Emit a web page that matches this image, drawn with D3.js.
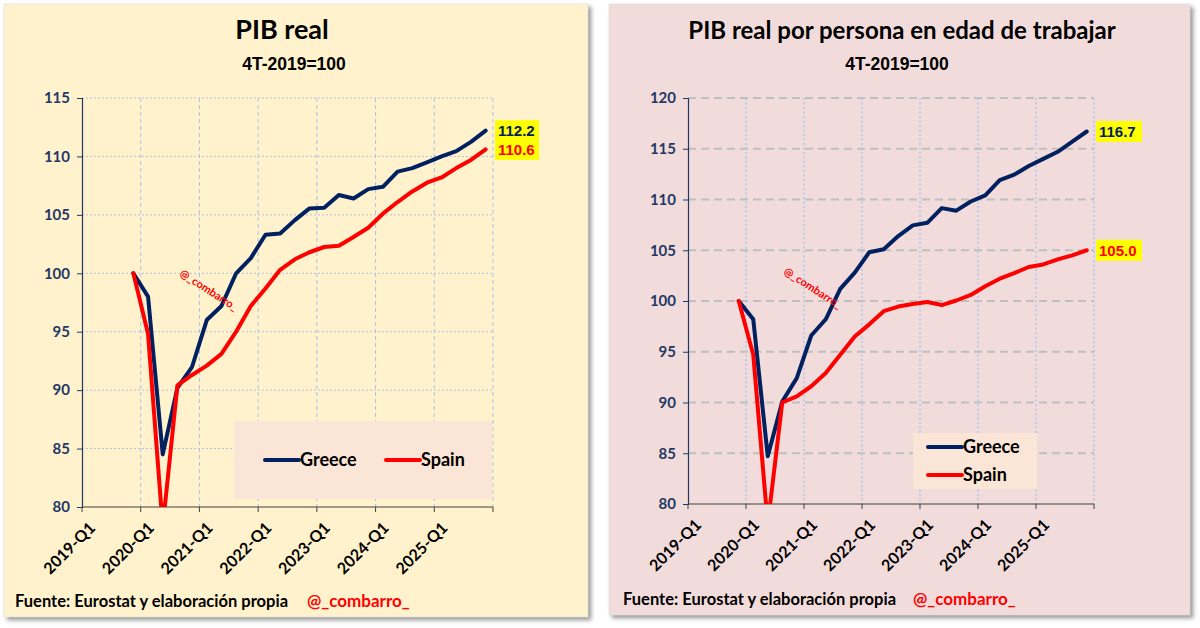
<!DOCTYPE html>
<html>
<head>
<meta charset="utf-8">
<script src="https://cdn.jsdelivr.net/npm/d3@7/dist/d3.min.js"></script>
<style>
  body { margin: 0; background: #ffffff; }
  text { font-family: Lato, "Open Sans", sans-serif; font-weight: bold; }
</style>
</head>
<body>
<div id="wrapper"></div>
<script>
// categories on the x axis (one per quarter)
const categories = [
  "2019-Q1", "2019-Q2", "2019-Q3", "2019-Q4",
  "2020-Q1", "2020-Q2", "2020-Q3", "2020-Q4",
  "2021-Q1", "2021-Q2", "2021-Q3", "2021-Q4",
  "2022-Q1", "2022-Q2", "2022-Q3", "2022-Q4",
  "2023-Q1", "2023-Q2", "2023-Q3", "2023-Q4",
  "2024-Q1", "2024-Q2", "2024-Q3", "2024-Q4",
  "2025-Q1", "2025-Q2", "2025-Q3", "2025-Q4",
]
const xTickLabels = ["2019-Q1", "2020-Q1", "2021-Q1", "2022-Q1", "2023-Q1", "2024-Q1", "2025-Q1"]

// PIB real, 4T-2019=100 (2019-Q4 .. 2025-Q4)
const gdpGreece = [100, 98.0, 84.5, 90.2, 92.0, 96.0, 97.2, 100.0, 101.3, 103.3, 103.4, 104.55, 105.55,
  105.6, 106.7, 106.4, 107.2, 107.4, 108.7, 109.0, 109.5, 110.0, 110.45, 111.25, 112.2]
const gdpSpain = [100, 94.8, 78.3, 90.4, 91.3, 92.1, 93.1, 95.0, 97.2, 98.7, 100.3, 101.2, 101.8,
  102.25, 102.35, 103.1, 103.9, 105.1, 106.1, 107.0, 107.75, 108.2, 109.0, 109.7, 110.6]

// PIB real por persona en edad de trabajar, 4T-2019=100
const gdpWapGreece = [100, 98.2, 84.7, 90.1, 92.4, 96.6, 98.2, 101.2, 102.8, 104.8, 105.1, 106.4, 107.45,
  107.7, 109.15, 108.9, 109.8, 110.4, 111.9, 112.45, 113.3, 114.0, 114.7, 115.7, 116.7]
const gdpWapSpain = [100, 94.7, 78.0, 90.0, 90.6, 91.6, 92.9, 94.7, 96.5, 97.7, 99.0, 99.45, 99.7,
  99.9, 99.6, 100.05, 100.6, 101.45, 102.2, 102.75, 103.35, 103.6, 104.1, 104.5, 105.0]

const seriesNames = ["Greece", "Spain"]
const seriesColors = ["#002060", "#ff0000"]
const firstDataQuarter = "2019-Q4"

const leftTicks = [80, 85, 90, 95, 100, 105, 110, 115]
const rightTicks = [80, 85, 90, 95, 100, 105, 110, 115, 120]

const dimensions = { width: 1200, height: 628 }

const wrapper = d3.select("#wrapper")
  .append("svg")
    .attr("width", dimensions.width)
    .attr("height", dimensions.height)

const defs = wrapper.append("defs")
defs.append("filter")
    .attr("id", "shadow")
    .attr("x", "-5%").attr("y", "-5%")
    .attr("width", "110%").attr("height", "110%")
  .append("feDropShadow")
    .attr("dx", 3).attr("dy", 3)
    .attr("stdDeviation", 2)
    .attr("flood-color", "#7f7f7f")
    .attr("flood-opacity", 0.8)

const startIndex = categories.indexOf(firstDataQuarter)
const toPoints = values => values.map((v, i) => ({ q: categories[startIndex + i], v }))

const panels = [
  {
    id: "left",
    box: { x: 4, y: 4, w: 584, h: 613 },
    background: "#fff2cc",
    title: "PIB real", titleSize: 27, titleX: 282,
    subtitleX: 294, subtitleY: 70,
    plot: { left: 82, top: 98, right: 493, bottom: 507 },
    ticks: leftTicks,
    series: [toPoints(gdpGreece), toPoints(gdpSpain)],
    hGrid: { stroke: "#b4c3dc", width: 1, dash: "2,2" },
    vGrid: { stroke: "#a8c3ea", width: 1, dash: "4,3" },
    legend: { x: 234, y: 421, w: 258, h: 78, layout: "row" },
    labelBoxX: 495, labelBoxW: 44,
    sourceX: 15, sourceY: 607, handleX: 307,
    watermark: { x: 209, y: 290 },
  },
  {
    id: "right",
    box: { x: 609, y: 4, w: 581, h: 611 },
    background: "#f2dcdb",
    title: "PIB real por persona en edad de trabajar", titleSize: 24, titleX: 902,
    subtitleX: 897, subtitleY: 69.5,
    plot: { left: 688, top: 98, right: 1094, bottom: 504 },
    ticks: rightTicks,
    series: [toPoints(gdpWapGreece), toPoints(gdpWapSpain)],
    hGrid: { stroke: "#bfbfbf", width: 2, dash: "8,5" },
    vGrid: { stroke: "#a9c8f0", width: 1.5, dash: "2,2.5" },
    legend: { x: 913, y: 433, w: 124, h: 56, layout: "column" },
    labelBoxX: 1096, labelBoxW: 46,
    sourceX: 623, sourceY: 605, handleX: 913,
    watermark: { x: 813, y: 288 },
  },
]

panels.forEach(drawPanel)

function drawPanel(cfg) {
  const g = wrapper.append("g").attr("class", cfg.id)
  const p = cfg.plot

  // panel background with shadow
  g.append("rect")
      .attr("x", cfg.box.x).attr("y", cfg.box.y)
      .attr("width", cfg.box.w).attr("height", cfg.box.h)
      .attr("fill", cfg.background)
      .attr("stroke", "#d9d9d9")
      .attr("stroke-width", 0.5)
      .attr("filter", "url(#shadow)")

  // titles
  g.append("text")
      .attr("x", cfg.titleX).attr("y", 38.5)
      .attr("text-anchor", "middle")
      .style("font-size", cfg.titleSize + "px")
      .attr("fill", "#000")
      .text(cfg.title)

  g.append("text")
      .attr("x", cfg.subtitleX).attr("y", cfg.subtitleY)
      .attr("text-anchor", "middle")
      .style("font-family", "'Liberation Sans', Arial, sans-serif")
      .style("font-size", "17.5px")
      .attr("fill", "#000")
      .text("4T-2019=100")

  // scales
  const xScale = d3.scaleBand()
    .domain(categories)
    .range([p.left, p.right])
  const bw = xScale.bandwidth()
  const xCenter = q => xScale(q) + bw / 2

  const yScale = d3.scaleLinear()
    .domain(d3.extent(cfg.ticks))
    .range([p.bottom, p.top])

  // grid
  const boundaries = xTickLabels.slice(1).map(q => xScale(q)).concat([p.right])
  g.append("g").selectAll("line")
    .data(cfg.ticks.slice(1))
    .join("line")
      .attr("x1", p.left).attr("x2", p.right)
      .attr("y1", d => yScale(d)).attr("y2", d => yScale(d))
      .attr("stroke", cfg.hGrid.stroke)
      .attr("stroke-width", cfg.hGrid.width)
      .attr("stroke-dasharray", cfg.hGrid.dash)

  g.append("g").selectAll("line")
    .data(boundaries)
    .join("line")
      .attr("x1", d => d).attr("x2", d => d)
      .attr("y1", p.top).attr("y2", p.bottom)
      .attr("stroke", cfg.vGrid.stroke)
      .attr("stroke-width", cfg.vGrid.width)
      .attr("stroke-dasharray", cfg.vGrid.dash)

  // legend box (drawn under the lines)
  const lg = cfg.legend
  g.append("rect")
      .attr("x", lg.x).attr("y", lg.y)
      .attr("width", lg.w).attr("height", lg.h)
      .attr("fill", "#fbe5d6")

  // y axis
  const yAxisGenerator = d3.axisLeft(yScale)
    .tickValues(cfg.ticks)
    .tickSize(5)
    .tickPadding(7)
  const yAxis = g.append("g")
      .attr("transform", `translate(${p.left},0)`)
      .call(yAxisGenerator)
  yAxis.select(".domain").attr("stroke", "#1f3864").attr("stroke-width", 1.2)
  yAxis.selectAll(".tick line").attr("stroke", "#1f3864")
  yAxis.selectAll(".tick text")
      .attr("fill", "#1f3864")
      .style("font-size", "15px")
      .style("font-family", "Lato, sans-serif")
      .style("font-weight", "bold")

  // x axis: ticks on quarter boundaries, labels rotated
  const xAxis = g.append("g")
  xAxis.append("line")
      .attr("x1", p.left).attr("x2", p.right)
      .attr("y1", p.bottom).attr("y2", p.bottom)
      .attr("stroke", "#404040").attr("stroke-width", 1.2)
  xAxis.selectAll(".xtick")
    .data([p.left].concat(boundaries))
    .join("line")
      .attr("class", "xtick")
      .attr("x1", d => d).attr("x2", d => d)
      .attr("y1", p.bottom).attr("y2", p.bottom + 5)
      .attr("stroke", "#404040")
  xAxis.selectAll(".xlabel")
    .data(xTickLabels)
    .join("text")
      .attr("class", "xlabel")
      .attr("transform", d => `translate(${xCenter(d) + 3},${p.bottom + 18}) rotate(-45)`)
      .attr("text-anchor", "end")
      .attr("dy", "0.35em")
      .style("font-size", "16px")
      .attr("fill", "#000")
      .text(d => d)

  // lines, clipped to the plot area
  const clipId = "clip-" + cfg.id
  defs.append("clipPath").attr("id", clipId)
    .append("rect")
      .attr("x", p.left).attr("y", p.top)
      .attr("width", p.right - p.left).attr("height", p.bottom - p.top)

  const lineGenerator = d3.line()
    .x(d => xCenter(d.q))
    .y(d => yScale(d.v))

  g.append("g")
      .attr("clip-path", `url(#${clipId})`)
    .selectAll("path")
    .data(cfg.series)
    .join("path")
      .attr("d", lineGenerator)
      .attr("fill", "none")
      .attr("stroke", (d, i) => seriesColors[i])
      .attr("stroke-width", 4)
      .attr("stroke-linejoin", "round")
      .attr("stroke-linecap", "round")

  // legend entries
  const legendItems = g.append("g").selectAll("g")
    .data(seriesNames)
    .join("g")
      .attr("transform", (d, i) => lg.layout === "row"
        ? `translate(${lg.x + 31 + i * 121},${lg.y + 39})`
        : `translate(${lg.x + 15},${lg.y + 14 + i * 28})`)
  legendItems.append("line")
      .attr("x1", 0).attr("x2", 34)
      .attr("stroke", (d, i) => seriesColors[i])
      .attr("stroke-width", 4)
      .attr("stroke-linecap", "round")
  legendItems.append("text")
      .attr("x", 35)
      .attr("dy", "0.35em")
      .style("font-size", "18px")
      .attr("fill", "#000")
      .text(d => d)

  // end-of-line value labels
  const labels = g.append("g").selectAll("g")
    .data(cfg.series)
    .join("g")
      .attr("transform", d => `translate(${cfg.labelBoxX},${yScale(d[d.length - 1].v)})`)
  labels.append("rect")
      .attr("y", -10.5)
      .attr("width", cfg.labelBoxW).attr("height", 21)
      .attr("fill", "#ffff00")
  labels.append("text")
      .attr("x", 3)
      .attr("dy", "0.36em")
      .style("font-family", "'Liberation Sans', Arial, sans-serif")
      .style("font-size", "15px")
      .attr("fill", (d, i) => seriesColors[i])
      .text(d => d3.format(".1f")(d[d.length - 1].v))

  // watermark
  g.append("text")
      .attr("transform", `translate(${cfg.watermark.x},${cfg.watermark.y}) rotate(33)`)
      .attr("text-anchor", "middle")
      .attr("dy", "0.35em")
      .style("font-size", "11px")
      .attr("fill", "#ff0000")
      .text("@_combarro_")

  // source
  g.append("text")
      .attr("x", cfg.sourceX).attr("y", cfg.sourceY)
      .style("font-size", "16.5px")
      .attr("fill", "#000")
      .text("Fuente: Eurostat y elaboración propia")
  g.append("text")
      .attr("x", cfg.handleX).attr("y", cfg.sourceY)
      .style("font-size", "17px")
      .attr("fill", "#ff0000")
      .text("@_combarro_")
}
</script>
</body>
</html>
